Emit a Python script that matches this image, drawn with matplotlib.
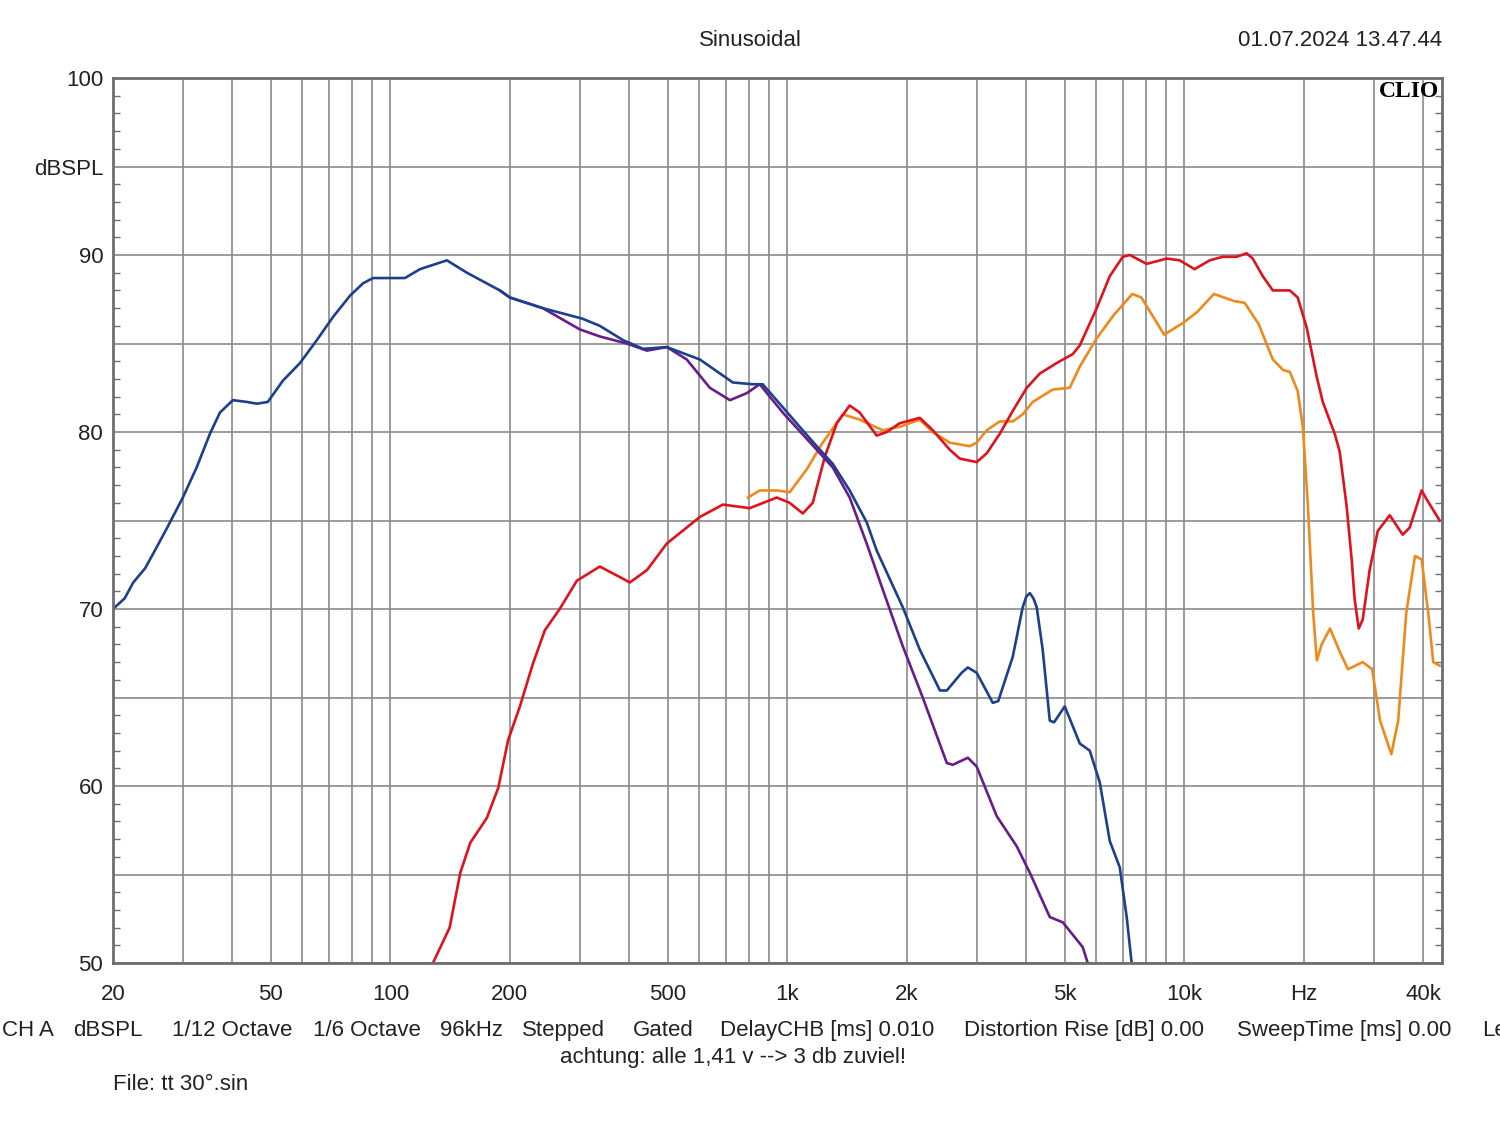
import matplotlib
matplotlib.use("Agg")
import matplotlib.pyplot as plt
from matplotlib.ticker import FixedLocator

plt.rcParams['font.family'] = ['Liberation Sans', 'DejaVu Sans']

# frequency response curves (Hz, dBSPL)
blue_f = [20, 21.4, 22.5, 24.1, 25.5, 27.4, 30.0, 32.5, 35.1, 37.2, 40.1, 43.5, 46.1, 49.1,
          53.6, 59.2, 65.3, 71.7, 79.1, 85.3, 90.4, 108.8, 118.7, 138.8, 155.9, 188.7, 200,
          242, 305, 337, 385, 433, 497, 602, 729, 818, 867, 974, 1074, 1186, 1302, 1436,
          1585, 1680, 1954, 2157, 2424, 2523, 2750, 2850, 3000, 3294, 3400, 3698, 3918, 4000,
          4084, 4170, 4250, 4400, 4584, 4700, 5000, 5457, 5781, 6128, 6492, 6882, 7162, 7380]
blue_db = [70.0, 70.6, 71.5, 72.3, 73.3, 74.6, 76.3, 78.0, 79.9, 81.1, 81.8, 81.7, 81.6, 81.7,
           82.9, 83.9, 85.2, 86.5, 87.7, 88.4, 88.7, 88.7, 89.2, 89.7, 89.0, 88.0, 87.6,
           87.0, 86.4, 86.0, 85.2, 84.7, 84.8, 84.1, 82.8, 82.7, 82.7, 81.4, 80.3, 79.2, 78.2, 76.7,
           74.9, 73.3, 70.1, 67.7, 65.4, 65.4, 66.4, 66.7, 66.4, 64.7, 64.8, 67.3, 70.1, 70.7,
           70.9, 70.6, 70.1, 67.7, 63.7, 63.6, 64.5, 62.4, 62.0, 60.2, 56.9, 55.4, 52.6, 49.9]

purple_f = [188.7, 200, 242, 300, 337, 394, 443, 497, 558, 638, 717, 791, 852, 974, 1186, 1302,
            1436, 1585, 1740, 1954, 2194, 2523, 2612, 2850, 3000, 3370, 3784, 4084, 4584,
            4944, 5550, 5713]
purple_db = [88.0, 87.6, 87.0, 85.8, 85.4, 85.0, 84.6, 84.8, 84.1, 82.5, 81.8, 82.2, 82.7, 81.1,
             79.0, 78.0, 76.3, 73.7, 71.1, 67.9, 65.0, 61.3, 61.2, 61.6, 61.1, 58.3, 56.6, 55.1,
             52.6, 52.3, 50.9, 50.0]

red_f = [128, 141, 150, 159, 175, 187, 198, 212, 228.5, 245, 267, 295, 337, 379, 401, 443, 497,
         602, 688, 804, 941, 1014, 1094, 1159, 1243, 1333, 1436, 1522, 1680, 1781, 1920, 2157,
         2326, 2566, 2720, 3000, 3180, 3430, 3700, 4012, 4325, 4774, 5236, 5457, 6020, 6492,
         7000, 7300, 8040, 9040, 9740, 10620, 11590, 12500, 13560, 14360, 14880, 15780,
         16720, 18450, 19320, 20350, 21580, 22340, 23940, 24640, 25660, 26420, 26860, 27520,
         28160, 29320, 30720, 32940, 35520, 36980, 39640, 40800, 44020]
red_db = [50.0, 52.0, 55.1, 56.8, 58.2, 59.9, 62.6, 64.5, 66.9, 68.8, 70.0, 71.6, 72.4, 71.8, 71.5,
          72.2, 73.7, 75.2, 75.9, 75.7, 76.3, 76.0, 75.4, 76.0, 78.6, 80.5, 81.5, 81.1, 79.8,
          80.0, 80.5, 80.8, 80.1, 79.0, 78.5, 78.3, 78.8, 79.9, 81.2, 82.5, 83.3, 83.9, 84.4,
          84.9, 87.0, 88.8, 89.9, 90.0, 89.5, 89.8, 89.7, 89.2, 89.7, 89.9, 89.9, 90.1, 89.8,
          88.8, 88.0, 88.0, 87.6, 85.9, 83.1, 81.7, 79.9, 78.9, 75.8, 72.8, 70.6, 68.9, 69.4,
          72.2, 74.4, 75.3, 74.2, 74.6, 76.7, 76.2, 75.0]

orange_f = [796, 852, 941, 1014, 1120, 1228, 1380, 1522, 1740, 1920, 2157, 2326, 2566, 2882,
            3000, 3180, 3430, 3700, 3918, 4152, 4664, 5148, 5457, 6020, 6640, 7400, 7800, 8900,
            9990, 10800, 11880, 13360, 14200, 15400, 16720, 17760, 18450, 19320, 19900, 20500,
            21130, 21580, 22200, 23300, 24640, 25860, 28160, 29760, 31140, 33260, 34600, 36260,
            38150, 39640, 41180, 42400, 44020]
orange_db = [76.3, 76.7, 76.7, 76.6, 77.9, 79.4, 81.0, 80.7, 80.1, 80.3, 80.7, 80.0, 79.4, 79.2,
             79.4, 80.1, 80.6, 80.6, 81.0, 81.7, 82.4, 82.5, 83.7, 85.3, 86.6, 87.8, 87.6, 85.5,
             86.2, 86.8, 87.8, 87.4, 87.3, 86.1, 84.1, 83.5, 83.4, 82.3, 80.3, 75.8,
             69.8, 67.1, 68.0, 68.9, 67.6, 66.6, 67.0, 66.6, 63.7, 61.8, 63.7, 69.8,
             73.0, 72.8, 69.8, 67.0, 66.8]

grid_freqs = [20, 30, 40, 50, 60, 70, 80, 90, 100, 200, 300, 400, 500, 600, 700, 800, 900,
              1000, 2000, 3000, 4000, 5000, 6000, 7000, 8000, 9000, 10000, 20000, 30000, 40000]
x_labels = {20: '20', 50: '50', 100: '100', 200: '200', 500: '500', 1000: '1k', 2000: '2k',
            5000: '5k', 10000: '10k', 20000: 'Hz', 40000: '40k'}
y_ticks = [50, 55, 60, 65, 70, 75, 80, 85, 90, 95, 100]
y_labels = ['50', '', '60', '', '70', '', '80', '', '90', 'dBSPL', '100']

fig = plt.figure(figsize=(15, 11.21), dpi=100)
ax = fig.add_axes([0.0753, 0.1409, 0.886, 0.7895])

ax.plot(orange_f, orange_db, color='#f0891c', lw=1.9)
ax.plot(red_f, red_db, color='#e0121c', lw=1.9)
ax.plot(purple_f, purple_db, color='#6a1b8a', lw=1.9)
ax.plot(blue_f, blue_db, color='#1c3f8e', lw=1.9)

ax.set_xscale('log')
ax.set_xlim(20, 44600)
ax.set_ylim(50, 100)

ax.xaxis.set_major_locator(FixedLocator(grid_freqs))
ax.xaxis.set_minor_locator(FixedLocator([]))
ax.set_xticklabels([x_labels.get(f, '') for f in grid_freqs])
ax.set_yticks(y_ticks)
ax.set_yticklabels(y_labels)
ax.yaxis.set_minor_locator(FixedLocator(range(50, 101)))

ax.grid(True, which='major', color='#8a8a8a', lw=1.2)
ax.tick_params(axis='x', which='major', length=0, pad=15, labelsize=16, labelcolor='#222222')
ax.tick_params(axis='y', which='major', length=0, pad=7, labelsize=16, labelcolor='#222222')
ax.tick_params(axis='y', which='minor', left=True, right=True, direction='in',
               length=5, width=1, color='#707070')
for s in ax.spines.values():
    s.set_color('#6e6e6e')
    s.set_linewidth(2)

ax.text(0.998, 0.997, 'CLIO', transform=ax.transAxes, ha='right', va='top',
        fontsize=17, fontweight='bold', family=['Liberation Serif', 'DejaVu Serif'])

fig.text(0.5, 0.964, 'Sinusoidal', ha='center', va='center', fontsize=16, color='#222222')
fig.text(0.9613, 0.964, '01.07.2024 13.47.44', ha='right', va='center', fontsize=16,
         color='#222222')

# info line runs off the right edge, as in the original export
info_items = ['CH A', 'dBSPL', '1/12 Octave', '1/6 Octave', '96kHz', 'Stepped', 'Gated',
              'DelayCHB [ms] 0.010', 'Distortion Rise [dB] 0.00', 'SweepTime [ms] 0.00', 'Le']
info_x = [2, 73, 172, 313, 440, 522, 633, 720, 964, 1237, 1482]
for label, x in zip(info_items, info_x):
    fig.text(x / 1500, 0.0803, label, ha='left', va='center', fontsize=16, color='#222222')

fig.text(0.4887, 0.0562, 'achtung: alle 1,41 v --> 3 db zuviel!', ha='center', va='center',
         fontsize=16, color='#222222')
fig.text(0.0753, 0.033, 'File: tt 30°.sin', ha='left', va='center', fontsize=16,
         color='#222222')

fig.savefig('out.png', dpi=100)
